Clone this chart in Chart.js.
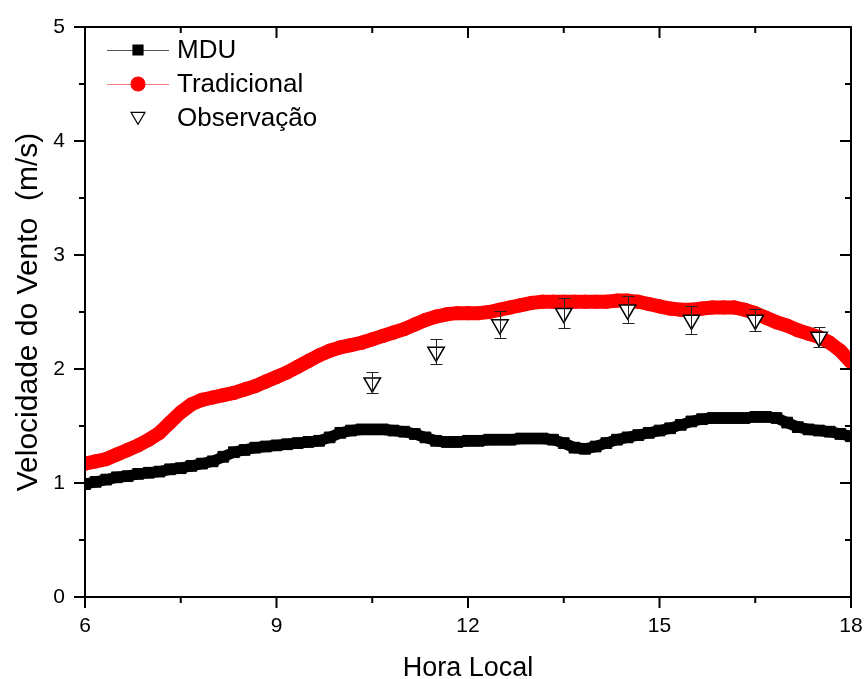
<!DOCTYPE html>
<html>
<head>
<meta charset="utf-8">
<script src="https://cdn.jsdelivr.net/npm/chart.js@4.4.0/dist/chart.umd.min.js"></script>
<style>
  body { margin: 0; background: #fff; }
</style>
</head>
<body>
<canvas id="myChart" width="865" height="679"></canvas>
<script>
// horas (a cada 10 min)
const horas = [
    6.000, 6.167, 6.333, 6.500, 6.667, 6.833,
    7.000, 7.167, 7.333, 7.500, 7.667, 7.833,
    8.000, 8.167, 8.333, 8.500, 8.667, 8.833,
    9.000, 9.167, 9.333, 9.500, 9.667, 9.833,
    10.000, 10.167, 10.333, 10.500, 10.667, 10.833,
    11.000, 11.167, 11.333, 11.500, 11.667, 11.833,
    12.000, 12.167, 12.333, 12.500, 12.667, 12.833,
    13.000, 13.167, 13.333, 13.500, 13.667, 13.833,
    14.000, 14.167, 14.333, 14.500, 14.667, 14.833,
    15.000, 15.167, 15.333, 15.500, 15.667, 15.833,
    16.000, 16.167, 16.333, 16.500, 16.667, 16.833,
    17.000, 17.167, 17.333, 17.500, 17.667, 17.833,
    18.000
];
const mdu = [
    0.99, 1.01, 1.03, 1.05, 1.06, 1.08,
    1.09, 1.10, 1.12, 1.13, 1.15, 1.17,
    1.19, 1.23, 1.27, 1.29, 1.31, 1.32,
    1.33, 1.34, 1.35, 1.36, 1.37, 1.40,
    1.44, 1.46, 1.47, 1.47, 1.47, 1.46,
    1.45, 1.43, 1.40, 1.37, 1.36, 1.36,
    1.37, 1.37, 1.38, 1.38, 1.38, 1.39,
    1.39, 1.39, 1.38, 1.35, 1.31, 1.30,
    1.32, 1.35, 1.38, 1.40, 1.42, 1.44,
    1.46, 1.48, 1.51, 1.54, 1.56, 1.57,
    1.57, 1.57, 1.57, 1.58, 1.58, 1.57,
    1.53, 1.49, 1.47, 1.46, 1.45, 1.43,
    1.41
];
const tradicional = [
    1.17, 1.19, 1.21, 1.25, 1.29, 1.33,
    1.38, 1.44, 1.53, 1.62, 1.69, 1.73,
    1.75, 1.77, 1.79, 1.82, 1.85, 1.89,
    1.93, 1.97, 2.02, 2.07, 2.12, 2.16,
    2.19, 2.21, 2.23, 2.26, 2.29, 2.32,
    2.35, 2.39, 2.43, 2.46, 2.48, 2.49,
    2.49, 2.49, 2.50, 2.52, 2.54, 2.56,
    2.58, 2.59, 2.59, 2.59, 2.59, 2.59,
    2.59, 2.59, 2.60, 2.60, 2.59, 2.57,
    2.55, 2.53, 2.52, 2.52, 2.53, 2.54,
    2.54, 2.54, 2.52, 2.49, 2.45, 2.41,
    2.38, 2.34, 2.31, 2.28, 2.23, 2.16,
    2.06
];
const obsHoras = [10.5, 11.5, 12.5, 13.5, 14.5, 15.5, 16.5, 17.5];
const obsVel = [1.88, 2.15, 2.39, 2.49, 2.52, 2.43, 2.43, 2.28];
const obsErro = [0.09, 0.11, 0.12, 0.13, 0.12, 0.12, 0.10, 0.09];

// marcas dos eixos
const xMaiores = [6, 9, 12, 15, 18];
const xMenores = [7.5, 10.5, 13.5, 16.5];
const yMaiores = [0, 1, 2, 3, 4, 5];
const yMenores = [0.5, 1.5, 2.5, 3.5, 4.5];

const pares = (xs, ys) => xs.map((x, i) => ({ x: x, y: ys[i] }));

// barras de erro + moldura estilo Origin
const molduraPlugin = {
    id: 'moldura',
    afterDatasetsDraw(chart) {
        const ctx = chart.ctx;
        const xs = chart.scales.x, ys = chart.scales.y;
        ctx.save();
        ctx.strokeStyle = '#222';
        ctx.lineWidth = 1;
        obsHoras.forEach((h, i) => {
            const px = Math.round(xs.getPixelForValue(h)) + 0.5;
            const top = Math.round(ys.getPixelForValue(obsVel[i] + obsErro[i])) + 0.5;
            const bot = Math.round(ys.getPixelForValue(obsVel[i] - obsErro[i])) + 0.5;
            ctx.beginPath();
            ctx.moveTo(px, top); ctx.lineTo(px, bot);
            ctx.moveTo(px - 6, top); ctx.lineTo(px + 6, top);
            ctx.moveTo(px - 6, bot); ctx.lineTo(px + 6, bot);
            ctx.stroke();
        });
        ctx.restore();
    },
    afterDraw(chart) {
        const ctx = chart.ctx;
        const a = chart.chartArea;
        const xs = chart.scales.x, ys = chart.scales.y;
        ctx.save();
        ctx.strokeStyle = '#000';
        ctx.lineWidth = 2;
        ctx.strokeRect(a.left, a.top, a.right - a.left, a.bottom - a.top);
        const tick = (v, len, eixo) => {
            ctx.beginPath();
            if (eixo === 'x') {
                const p = xs.getPixelForValue(v);
                ctx.moveTo(p, a.bottom); ctx.lineTo(p, a.bottom + len);
                ctx.moveTo(p, a.top); ctx.lineTo(p, a.top + len);
            } else {
                const p = ys.getPixelForValue(v);
                ctx.moveTo(a.left, p); ctx.lineTo(a.left - len, p);
                ctx.moveTo(a.right, p); ctx.lineTo(a.right - len, p);
            }
            ctx.stroke();
        };
        xMaiores.forEach(v => tick(v, 11, 'x'));
        xMenores.forEach(v => tick(v, 6, 'x'));
        yMaiores.forEach(v => tick(v, 11, 'y'));
        yMenores.forEach(v => tick(v, 6, 'y'));

        // legenda
        const L = a.left, T = a.top;
        ctx.font = '26px "Liberation Sans", Arial, sans-serif';
        ctx.textBaseline = 'middle';
        chart.data.datasets.forEach((ds, i) => {
            const y = T + 23 + i * 34;
            if (ds.legendLine) {
                ctx.lineWidth = 1;
                ctx.strokeStyle = ds.legendLine;
                ctx.beginPath();
                ctx.moveTo(L + 22, y + 0.5); ctx.lineTo(L + 84, y + 0.5);
                ctx.stroke();
            }
            ctx.fillStyle = ds.pointBackgroundColor;
            ctx.strokeStyle = ds.pointBorderColor;
            ctx.lineWidth = 1.2;
            ctx.beginPath();
            const r = ds.legendRadius;
            if (ds.pointStyle === 'rect') {
                ctx.rect(L + 53 - r, y - r, 2 * r, 2 * r);
            } else if (ds.pointStyle === 'circle') {
                ctx.arc(L + 53, y, r, 0, Math.PI * 2);
            } else {
                ctx.moveTo(L + 53 - r, y - r * 0.8);
                ctx.lineTo(L + 53 + r, y - r * 0.8);
                ctx.lineTo(L + 53, y + r * 0.9);
                ctx.closePath();
            }
            ctx.fill(); ctx.stroke();
            ctx.fillStyle = '#000';
            ctx.fillText(ds.label, L + 92, y + 1);
        });
        ctx.restore();
    }
};

const familia = '"Liberation Sans", Arial, sans-serif';
const fonteTick = { family: familia, size: 21 };

const ctx = document.getElementById('myChart').getContext('2d');
const chart = new Chart(ctx, {
    type: 'scatter',
    data: {
        datasets: [
            {
                label: 'MDU',
                data: pares(horas, mdu),
                showLine: true,
                borderColor: '#000',
                borderWidth: 11,
                borderJoinStyle: 'round',
                legendLine: '#555',
                pointStyle: 'rect',
                pointRadius: 7.6,
                pointBackgroundColor: '#000',
                pointBorderColor: '#000',
                pointBorderWidth: 1,
                legendRadius: 5,
                order: 2
            },
            {
                label: 'Tradicional',
                data: pares(horas, tradicional),
                showLine: true,
                borderColor: '#ff0000',
                borderWidth: 14,
                borderJoinStyle: 'round',
                legendLine: '#f08080',
                pointStyle: 'circle',
                pointRadius: 6.6,
                pointBackgroundColor: '#ff0000',
                pointBorderColor: '#ff0000',
                pointBorderWidth: 1,
                legendRadius: 7,
                order: 1
            },
            {
                label: 'Observação',
                data: pares(obsHoras, obsVel),
                showLine: false,
                pointStyle: 'triangle',
                rotation: 180,
                pointRadius: 9.5,
                pointBackgroundColor: '#fff',
                pointBorderColor: '#000',
                pointBorderWidth: 1.5,
                legendRadius: 7,
                order: 0
            }
        ]
    },
    options: {
        responsive: false,
        animation: false,
        layout: { padding: { left: 5, right: 14, top: 27, bottom: 0 } },
        plugins: {
            legend: { display: false },
            tooltip: { enabled: false }
        },
        scales: {
            x: {
                type: 'linear',
                min: 6, max: 18,
                grid: { display: false, tickLength: 16 },
                border: { display: false },
                ticks: { stepSize: 3, color: '#000', font: fonteTick, padding: 1, maxRotation: 0 },
                title: { display: true, text: 'Hora Local', color: '#000',
                         font: { family: familia, size: 27, lineHeight: 0.75 }, padding: { top: 0, bottom: 0 } },
                afterFit: s => { s.height = 82; }
            },
            y: {
                min: 0, max: 5,
                grid: { display: false },
                border: { display: false },
                ticks: { stepSize: 1, color: '#000', font: fonteTick, padding: 12 },
                title: { display: true, text: 'Velocidade do Vento  (m/s)', color: '#000',
                         font: { family: familia, size: 30 }, padding: { top: 6, bottom: 0 } },
                afterFit: s => { s.width = 80; }
            }
        }
    },
    plugins: [molduraPlugin]
});
</script>
</body>
</html>
